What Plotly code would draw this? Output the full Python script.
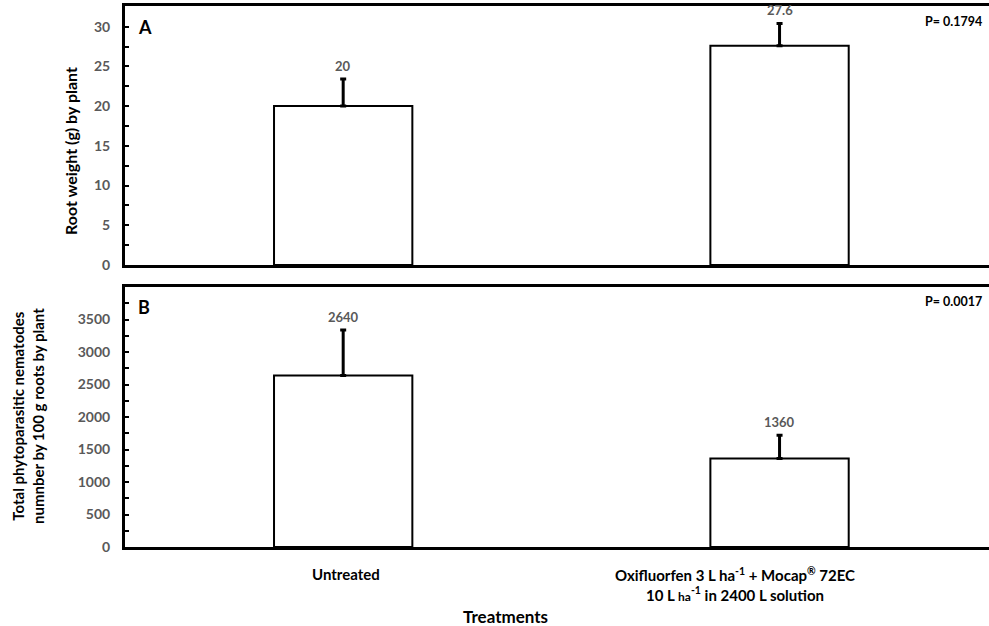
import plotly.graph_objects as go

categories = ["Untreated", "Oxifluorfen"]
tick_labels = [
    "Untreated",
    "Oxifluorfen 3 L ha<sup>-1</sup> + Mocap<sup>®</sup> 72EC<br>10 L <span style='font-size:12px'>ha</span><sup>-1</sup> in 2400 L solution",
]
label_shift = [3, -45]
root_weight = [20, 27.6]
root_weight_err = [3.4, 2.8]
nematodes = [2640, 1360]
nematodes_err = [700, 360]
y1_ticks = [0, 5, 10, 15, 20, 25, 30]
y2_ticks = [0, 500, 1000, 1500, 2000, 2500, 3000, 3500]
p_values = ["P= 0.1794", "P= 0.0017"]
panel_letters = ["A", "B"]

FONT = "Lato"
GREY = "#595959"

W, H = 989, 626
L, R, T, B = 125, 0, 6, 79
PW, PH = W - L - R, H - T - B


def px_x(x):
    return (x - L) / PW


def px_y(y):
    return (H - B - y) / PH


fig = go.Figure()

fig.add_trace(go.Bar(
    x=categories, y=root_weight, width=0.317,
    marker=dict(color="white", line=dict(color="black", width=2)),
    error_y=dict(type="data", array=root_weight_err, arrayminus=[0, 0], symmetric=False,
                 color="black", thickness=3, width=3),
    xaxis="x", yaxis="y", showlegend=False, hoverinfo="skip",
))
fig.add_trace(go.Bar(
    x=categories, y=nematodes, width=0.317,
    marker=dict(color="white", line=dict(color="black", width=2)),
    error_y=dict(type="data", array=nematodes_err, arrayminus=[0, 0], symmetric=False,
                 color="black", thickness=3, width=3),
    xaxis="x2", yaxis="y2", showlegend=False, hoverinfo="skip",
))

annotations = []
for vals, errs, xa, ya in [(root_weight, root_weight_err, "x", "y"), (nematodes, nematodes_err, "x2", "y2")]:
    for c, v, e in zip(categories, vals, errs):
        annotations.append(dict(
            x=c, y=v + e, xref=xa, yref=ya, text=f"<b>{v:g}</b>", showarrow=False,
            yanchor="bottom", yshift=3, font=dict(family=FONT, size=13, color=GREY, weight="bold"),
        ))

# category labels (second one sits left of its bar as in the original)
for c, t, s in zip(categories, tick_labels, label_shift):
    annotations.append(dict(
        x=c, y=px_y(563), xref="x2", yref="paper", text=f"<b>{t}</b>", showarrow=False,
        xanchor="center", yanchor="top", xshift=s,
        font=dict(family=FONT, size=15, color="black", weight="bold"),
    ))

annotations += [
    dict(x=px_x(984), y=px_y(21), xref="paper", yref="paper", text=f"<b>{p_values[0]}</b>", showarrow=False,
         xanchor="right", yanchor="middle", font=dict(family=FONT, size=12.5, color="black")),
    dict(x=px_x(984), y=px_y(301), xref="paper", yref="paper", text=f"<b>{p_values[1]}</b>", showarrow=False,
         xanchor="right", yanchor="middle", font=dict(family=FONT, size=12.5, color="black")),
    dict(x=px_x(136), y=px_y(27), xref="paper", yref="paper", text=f"<b>{panel_letters[0]}</b>", showarrow=False,
         xanchor="left", yanchor="middle", font=dict(family=FONT, size=18, color="black")),
    dict(x=px_x(136), y=px_y(307), xref="paper", yref="paper", text=f"<b>{panel_letters[1]}</b>", showarrow=False,
         xanchor="left", yanchor="middle", font=dict(family=FONT, size=18, color="black")),
    dict(x=px_x(71), y=px_y(151), xref="paper", yref="paper", text="<b>Root weight (g) by plant</b>",
         showarrow=False, textangle=-90, xanchor="center", yanchor="middle",
         font=dict(family=FONT, size=16, color="black")),
    dict(x=px_x(28), y=px_y(416), xref="paper", yref="paper",
         text="<b>Total phytoparasitic nematodes<br>numnber by 100 g roots by plant</b>",
         showarrow=False, textangle=-90, xanchor="center", yanchor="middle",
         font=dict(family=FONT, size=15, color="black")),
    dict(x=px_x(505), y=px_y(616), xref="paper", yref="paper", text="<b>Treatments</b>",
         showarrow=False, xanchor="center", yanchor="middle",
         font=dict(family=FONT, size=17, color="black")),
]

axis_common = dict(showline=True, linecolor="black", linewidth=3, showgrid=False, zeroline=False)
y_common = dict(axis_common, ticks="inside", ticklen=4, tickwidth=2, tickcolor="black",
                tickfont=dict(family=FONT, size=14, color=GREY, weight="bold"), ticklabelstandoff=9,
                automargin=False, tickmode="array")

fig.update_layout(
    width=W, height=H,
    margin=dict(l=L, r=R, t=T, b=B, autoexpand=False),
    plot_bgcolor="white", paper_bgcolor="white",
    bargap=0,
    hovermode=False,
    xaxis=dict(axis_common, domain=[0, 1], range=[-0.5, 1.48], mirror=True,
               showticklabels=False, ticks="", anchor="y", automargin=False),
    yaxis=dict(y_common, domain=[px_y(265), 1], range=[0, 32.6], tickvals=y1_ticks,
               minor=dict(dtick=2.5, ticks="inside", ticklen=4, tickwidth=2, tickcolor="black"),
               anchor="x"),
    xaxis2=dict(axis_common, domain=[0, 1], range=[-0.5, 1.48], mirror=True,
                showticklabels=False, ticks="", anchor="y2", automargin=False),
    yaxis2=dict(y_common, domain=[0, px_y(287)], range=[0, 4000], tickvals=y2_ticks,
                minor=dict(dtick=250, ticks="inside", ticklen=4, tickwidth=2, tickcolor="black"),
                anchor="x2"),
    annotations=annotations,
)

fig.write_html("out.html", config={"displayModeBar": False, "staticPlot": True},
               post_script="document.body.style.margin='0';document.body.style.overflow='hidden';")
